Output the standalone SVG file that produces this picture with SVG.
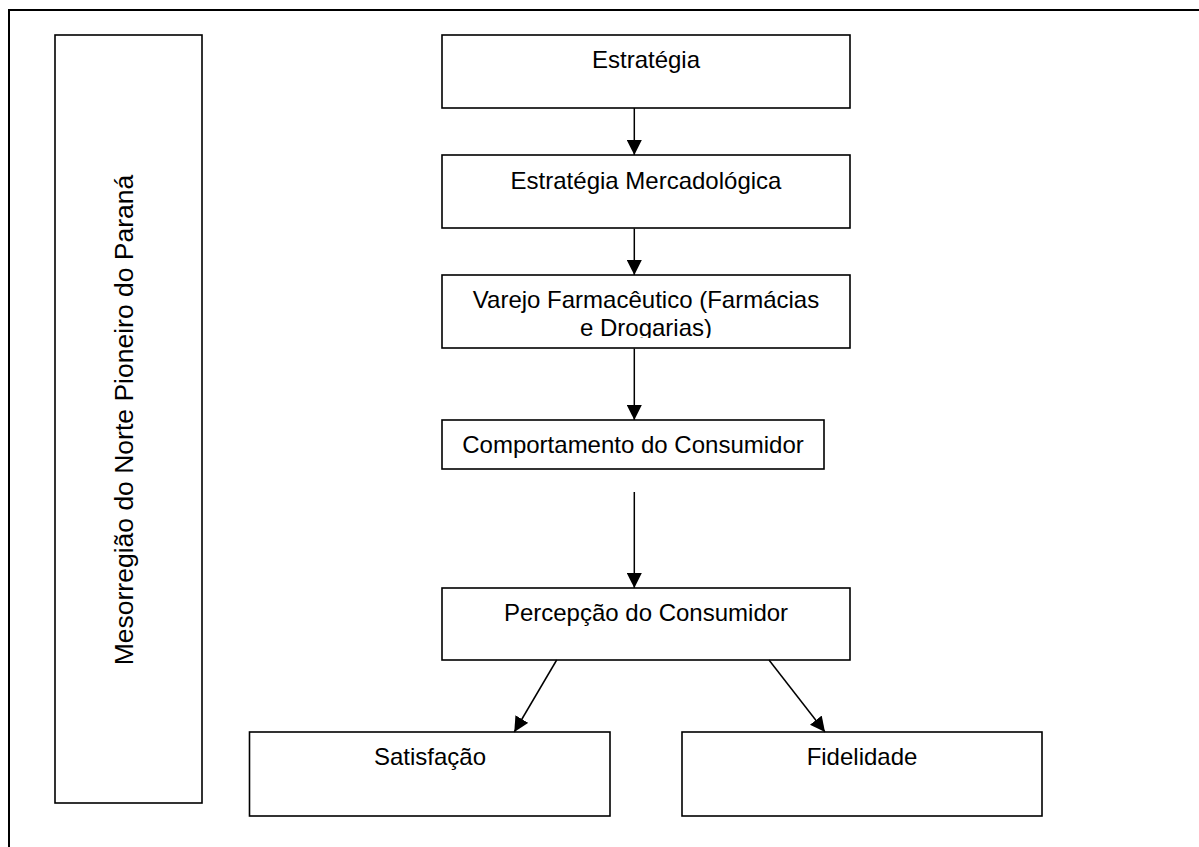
<svg xmlns="http://www.w3.org/2000/svg" width="1199" height="847" viewBox="0 0 1199 847">
<style>
.box{fill:#fff;stroke:#000;stroke-width:1.6}
.t{font-family:"Liberation Sans",Arial,sans-serif;font-size:24px;fill:#000;text-anchor:middle}
.c{stroke:#000;stroke-width:1.5;fill:none}
</style>
<defs>
<marker id="ah" markerWidth="15" markerHeight="15" refX="15" refY="7.5" orient="auto" markerUnits="userSpaceOnUse">
<path d="M0,0 L15,7.5 L0,15 Z" fill="#000"/>
</marker>
<clipPath id="clip3"><rect x="441" y="275" width="410" height="63"/></clipPath>
</defs>
<rect width="1199" height="847" fill="#fff"/>
<path d="M9,847 V10 H1199" fill="none" stroke="#000" stroke-width="2"/>
<g id="regiao">
<rect class="box" x="55" y="35" width="147" height="768"/>
<text class="t" font-size="26.5" style="font-size:26.5px" transform="translate(133,420) rotate(-90)">Mesorregião do Norte Pioneiro do Paraná</text>
</g>
<g id="estrategia">
<rect class="box" x="442" y="35" width="408" height="73"/>
<text class="t" x="646" y="68">Estratégia</text>
</g>
<g id="estrategia-mercadologica">
<rect class="box" x="442" y="155" width="408" height="73"/>
<text class="t" x="646" y="189">Estratégia Mercadológica</text>
</g>
<g id="varejo">
<rect class="box" x="442" y="275" width="408" height="73"/>
<g clip-path="url(#clip3)">
<text class="t" x="646" y="308">Varejo Farmacêutico (Farmácias</text>
<text class="t" x="646" y="336">e Drogarias)</text>
</g>
</g>
<g id="comportamento">
<rect class="box" x="442" y="420" width="382" height="49"/>
<text class="t" x="633" y="453">Comportamento do Consumidor</text>
</g>
<g id="percepcao">
<rect class="box" x="442" y="588" width="408" height="72"/>
<text class="t" x="646" y="621">Percepção do Consumidor</text>
</g>
<g id="satisfacao">
<rect class="box" x="249.5" y="732" width="360.5" height="84"/>
<text class="t" x="430" y="765">Satisfação</text>
</g>
<g id="fidelidade">
<rect class="box" x="682" y="732" width="360" height="84"/>
<text class="t" x="862" y="765">Fidelidade</text>
</g>
<g id="connectors">
<line class="c" x1="634.3" y1="108" x2="634.3" y2="155" marker-end="url(#ah)"/>
<line class="c" x1="634.3" y1="228.5" x2="634.3" y2="275" marker-end="url(#ah)"/>
<line class="c" x1="634.3" y1="348.5" x2="634.3" y2="420" marker-end="url(#ah)"/>
<line class="c" x1="634.3" y1="492" x2="634.3" y2="588" marker-end="url(#ah)"/>
<line class="c" x1="556.7" y1="660" x2="514.3" y2="732" marker-end="url(#ah)"/>
<line class="c" x1="769" y1="660" x2="825" y2="732" marker-end="url(#ah)"/>
</g>
</svg>
